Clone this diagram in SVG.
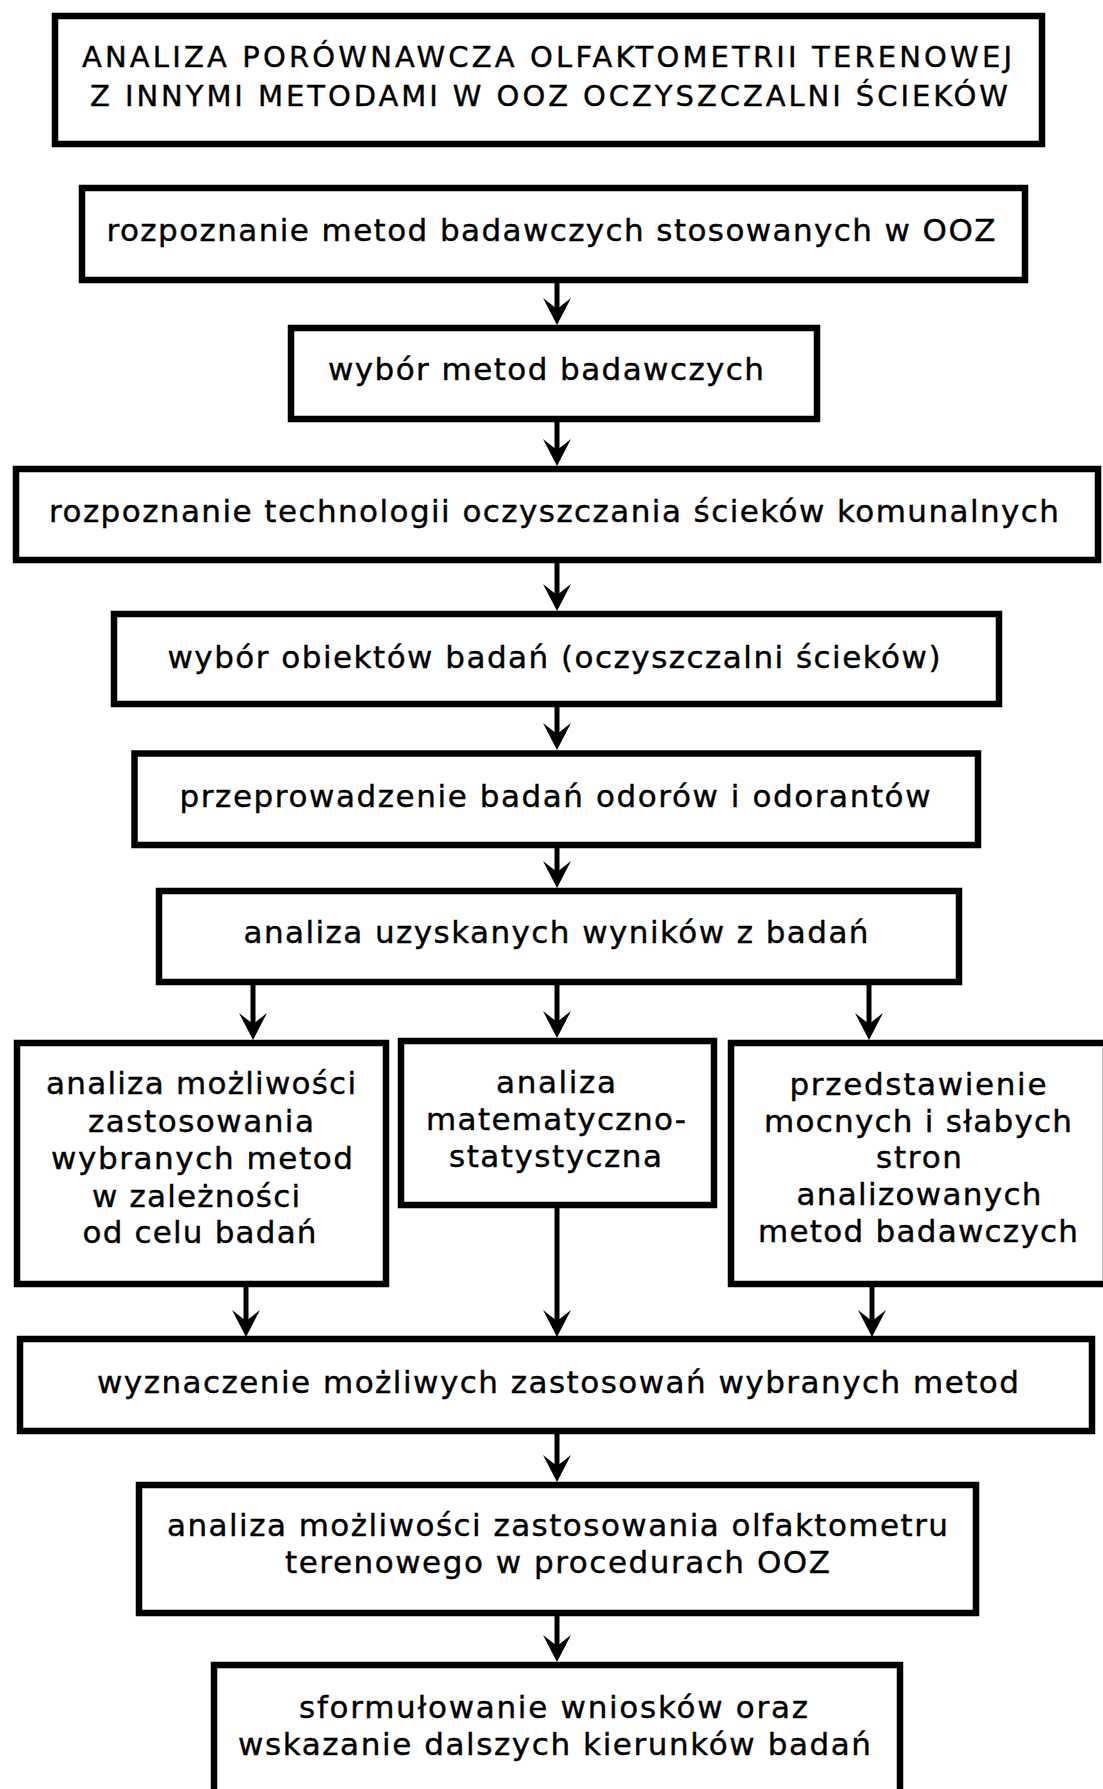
<svg xmlns="http://www.w3.org/2000/svg" width="1103" height="1789" viewBox="0 0 1103 1789">
  <style>
    .box { fill: #ffffff; stroke: #000000; stroke-width: 6.5; }
    .lbl { font-family: "DejaVu Sans", "Verdana", sans-serif; font-size: 31px; fill: #000000; stroke: #000000; stroke-width: 0.4; text-anchor: middle; }
    .title { font-size: 29px; }
    .link { fill: none; stroke: #000000; stroke-width: 5; }
  </style>
  <defs>
    <marker id="arrow" markerUnits="userSpaceOnUse" viewBox="0 -15 27 30" refX="11" refY="0" markerWidth="27" markerHeight="30" orient="auto">
      <path d="M27,0 L0,-14 L11,0 L0,14 Z" fill="#000000"/>
    </marker>
  </defs>
  <rect width="1103" height="1789" fill="#ffffff"/>

  <g id="connectors">
    <path class="link" d="M557,283 V309" marker-end="url(#arrow)"/>
    <path class="link" d="M557,421 V450" marker-end="url(#arrow)"/>
    <path class="link" d="M557,563 V595" marker-end="url(#arrow)"/>
    <path class="link" d="M557,707 V734" marker-end="url(#arrow)"/>
    <path class="link" d="M557,848 V872" marker-end="url(#arrow)"/>
    <path class="link" d="M253,985 V1024" marker-end="url(#arrow)"/>
    <path class="link" d="M557,985 V1022" marker-end="url(#arrow)"/>
    <path class="link" d="M869,985 V1024" marker-end="url(#arrow)"/>
    <path class="link" d="M246,1287 V1321" marker-end="url(#arrow)"/>
    <path class="link" d="M557,1208 V1321" marker-end="url(#arrow)"/>
    <path class="link" d="M872,1287 V1321" marker-end="url(#arrow)"/>
    <path class="link" d="M557,1433 V1466" marker-end="url(#arrow)"/>
    <path class="link" d="M557,1616 V1646" marker-end="url(#arrow)"/>
  </g>

  <g id="n-title">
    <rect class="box" x="55" y="16" width="987" height="128"/>
    <text class="lbl title" x="547" y="67" textLength="930">ANALIZA PORÓWNAWCZA OLFAKTOMETRII TERENOWEJ</text>
    <text class="lbl title" x="549" y="106" textLength="918">Z INNYMI METODAMI W OOZ OCZYSZCZALNI ŚCIEKÓW</text>
  </g>

  <g id="n-rozpoznanie-metod">
    <rect class="box" x="82" y="188" width="943" height="92"/>
    <text class="lbl" x="551" y="241" textLength="889">rozpoznanie metod badawczych stosowanych w OOZ</text>
  </g>

  <g id="n-wybor-metod">
    <rect class="box" x="291" y="328" width="526" height="91"/>
    <text class="lbl" x="546" y="380" textLength="436">wybór metod badawczych</text>
  </g>

  <g id="n-technologie">
    <rect class="box" x="16" y="469" width="1082" height="91"/>
    <text class="lbl" x="554" y="522" textLength="1010">rozpoznanie technologii oczyszczania ścieków komunalnych</text>
  </g>

  <g id="n-obiekty">
    <rect class="box" x="114" y="614" width="885" height="90"/>
    <text class="lbl" x="554" y="668" textLength="773">wybór obiektów badań (oczyszczalni ścieków)</text>
  </g>

  <g id="n-badania">
    <rect class="box" x="134.5" y="753.5" width="843.5" height="91.5"/>
    <text class="lbl" x="555" y="807" textLength="751">przeprowadzenie badań odorów i odorantów</text>
  </g>

  <g id="n-analiza-wynikow">
    <rect class="box" x="159" y="891" width="800" height="91"/>
    <text class="lbl" x="556" y="943" textLength="625">analiza uzyskanych wyników z badań</text>
  </g>

  <g id="n-analiza-mozliwosci">
    <rect class="box" x="17" y="1043" width="369" height="241"/>
    <text class="lbl" x="201" y="1094" textLength="310">analiza możliwości</text>
    <text class="lbl" x="201" y="1132" textLength="226">zastosowania</text>
    <text class="lbl" x="202" y="1169" textLength="302">wybranych metod</text>
    <text class="lbl" x="196" y="1207" textLength="208">w zależności</text>
    <text class="lbl" x="199.5" y="1243" textLength="234">od celu badań</text>
  </g>

  <g id="n-statystyka">
    <rect class="box" x="401" y="1041" width="313" height="164"/>
    <text class="lbl" x="556" y="1093" textLength="120">analiza</text>
    <text class="lbl" x="556" y="1130" textLength="260">matematyczno-</text>
    <text class="lbl" x="555.5" y="1167" textLength="213">statystyczna</text>
  </g>

  <g id="n-mocne-slabe">
    <rect class="box" x="731" y="1043" width="375" height="241"/>
    <text class="lbl" x="918" y="1095" textLength="257">przedstawienie</text>
    <text class="lbl" x="918" y="1132" textLength="308">mocnych i słabych</text>
    <text class="lbl" x="919" y="1168" textLength="86">stron</text>
    <text class="lbl" x="919" y="1205" textLength="245">analizowanych</text>
    <text class="lbl" x="918" y="1242" textLength="320">metod badawczych</text>
  </g>

  <g id="n-zastosowania">
    <rect class="box" x="20" y="1339" width="1072" height="92"/>
    <text class="lbl" x="558" y="1393" textLength="922">wyznaczenie możliwych zastosowań wybranych metod</text>
  </g>

  <g id="n-olfaktometr">
    <rect class="box" x="139" y="1485" width="837" height="128"/>
    <text class="lbl" x="557.5" y="1536" textLength="781">analiza możliwości zastosowania olfaktometru</text>
    <text class="lbl" x="557.5" y="1573" textLength="545">terenowego w procedurach OOZ</text>
  </g>

  <g id="n-wnioski">
    <rect class="box" x="214" y="1665" width="686" height="160"/>
    <text class="lbl" x="553.5" y="1718" textLength="509">sformułowanie wniosków oraz</text>
    <text class="lbl" x="554.5" y="1755" textLength="633">wskazanie dalszych kierunków badań</text>
  </g>
</svg>
